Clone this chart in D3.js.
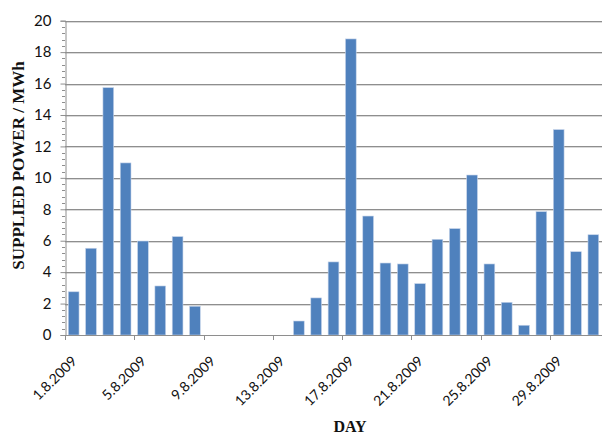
<!DOCTYPE html>
<html>
<head>
<meta charset="utf-8">
<script src="https://cdn.jsdelivr.net/npm/d3@7"></script>
<style>
  html, body { margin: 0; padding: 0; background: #fff; }
  svg { display: block; }
</style>
</head>
<body>
<svg id="chart" width="602" height="435"></svg>
<script>
// ---- data ----
const days = d3.range(1, 32).map(d => d + ".8.2009");
const power = [2.75, 5.52, 15.74, 10.95, 5.98, 3.12, 6.26, 1.83,
               0, 0, 0, 0, 0, 0.89, 2.36, 4.65, 18.84, 7.57, 4.58, 4.52,
               3.27, 6.09, 6.77, 10.18, 4.52, 2.08, 0.62, 7.85, 13.07, 5.30, 6.38];
const xTickLabels = ["1.8.2009", "5.8.2009", "9.8.2009", "13.8.2009", "17.8.2009",
                     "21.8.2009", "25.8.2009", "29.8.2009"];
const yTicks = [0, 2, 4, 6, 8, 10, 12, 14, 16, 18, 20];
const yTitle = "SUPPLIED POWER / MWh";
const xTitle = "DAY";

(function () {
// ---- layout ----
const svg = d3.select("#chart");
const pL = 65, pR = 602, pT = 20.7, pB = 335;

const x = d3.scaleBand().domain(days).range([pL, pR])
  .paddingInner(0.38).paddingOuter(0.19);
const y = d3.scaleLinear().domain([0, 20]).range([pB, pT]);

// gridlines
const grid = svg.append("g");
yTicks.filter(t => t > 0).forEach(t => {
  const yy = Math.round(y(t)) + 0.5;
  grid.append("line").attr("x1", pL).attr("x2", pR)
    .attr("y1", yy + 1).attr("y2", yy + 1).attr("stroke", "#d9d9d9");
  grid.append("line").attr("x1", pL).attr("x2", pR)
    .attr("y1", yy).attr("y2", yy).attr("stroke", "#8e8e8e");
});

// bars
svg.append("g").selectAll("rect").data(power).join("rect")
  .attr("x", (d, i) => x(days[i]))
  .attr("y", d => y(d))
  .attr("width", x.bandwidth())
  .attr("height", d => y(0) - y(d))
  .attr("fill", "#4f81bd")
  .attr("stroke", "#c6d4ea")
  .attr("stroke-width", 0.6);

// y axis
const yAxis = svg.append("g").attr("transform", `translate(${pL + 0.5},0)`)
  .call(d3.axisLeft(y).tickValues(yTicks).tickSize(5).tickPadding(9).tickFormat(d3.format("d")));
yAxis.select(".domain").attr("stroke", "#8e8e8e");
yAxis.selectAll(".tick line").attr("stroke", "#8e8e8e");
yAxis.selectAll("text").attr("font-family", "Lato, 'Liberation Sans', sans-serif")
  .attr("font-size", 15).attr("fill", "#111");
// minor ticks
const minor = d3.range(0, 20.01, 0.4).filter(v => Math.abs(v / 2 - Math.round(v / 2)) > 0.01);
svg.append("g").selectAll("line").data(minor).join("line")
  .attr("x1", pL - 3).attr("x2", pL)
  .attr("y1", d => Math.round(y(d)) + 0.5).attr("y2", d => Math.round(y(d)) + 0.5)
  .attr("stroke", "#8e8e8e");

// x axis
const xAxisG = svg.append("g");
xAxisG.append("line").attr("x1", pL).attr("x2", pR)
  .attr("y1", pB + 0.5).attr("y2", pB + 0.5).attr("stroke", "#8e8e8e");
xTickLabels.forEach(lbl => {
  const bx = Math.round(x(lbl) - x.step() * x.paddingInner() / 2) + 0.5;
  xAxisG.append("line").attr("x1", bx).attr("x2", bx)
    .attr("y1", pB).attr("y2", pB + 5).attr("stroke", "#8e8e8e");
  const cx = x(lbl) + x.bandwidth() / 2;
  xAxisG.append("text")
    .attr("transform", `translate(${cx + 4},${pB + 27}) rotate(-45)`)
    .attr("text-anchor", "end")
    .attr("font-family", "Lato, 'Liberation Sans', sans-serif")
    .attr("font-size", 14).attr("fill", "#111")
    .text(lbl);
});

// titles
svg.append("text")
  .attr("transform", `translate(24,${(63 + 268) / 2}) rotate(-90)`)
  .attr("text-anchor", "middle")
  .attr("font-family", "'Liberation Serif', 'Times New Roman', serif")
  .attr("font-weight", "bold").attr("font-size", 17).attr("fill", "#111")
  .text(yTitle);
svg.append("text")
  .attr("x", 350).attr("y", 432)
  .attr("text-anchor", "middle")
  .attr("font-family", "'Liberation Serif', 'Times New Roman', serif")
  .attr("font-weight", "bold").attr("font-size", 16).attr("fill", "#111")
  .text(xTitle);
})();
</script>
</body>
</html>
